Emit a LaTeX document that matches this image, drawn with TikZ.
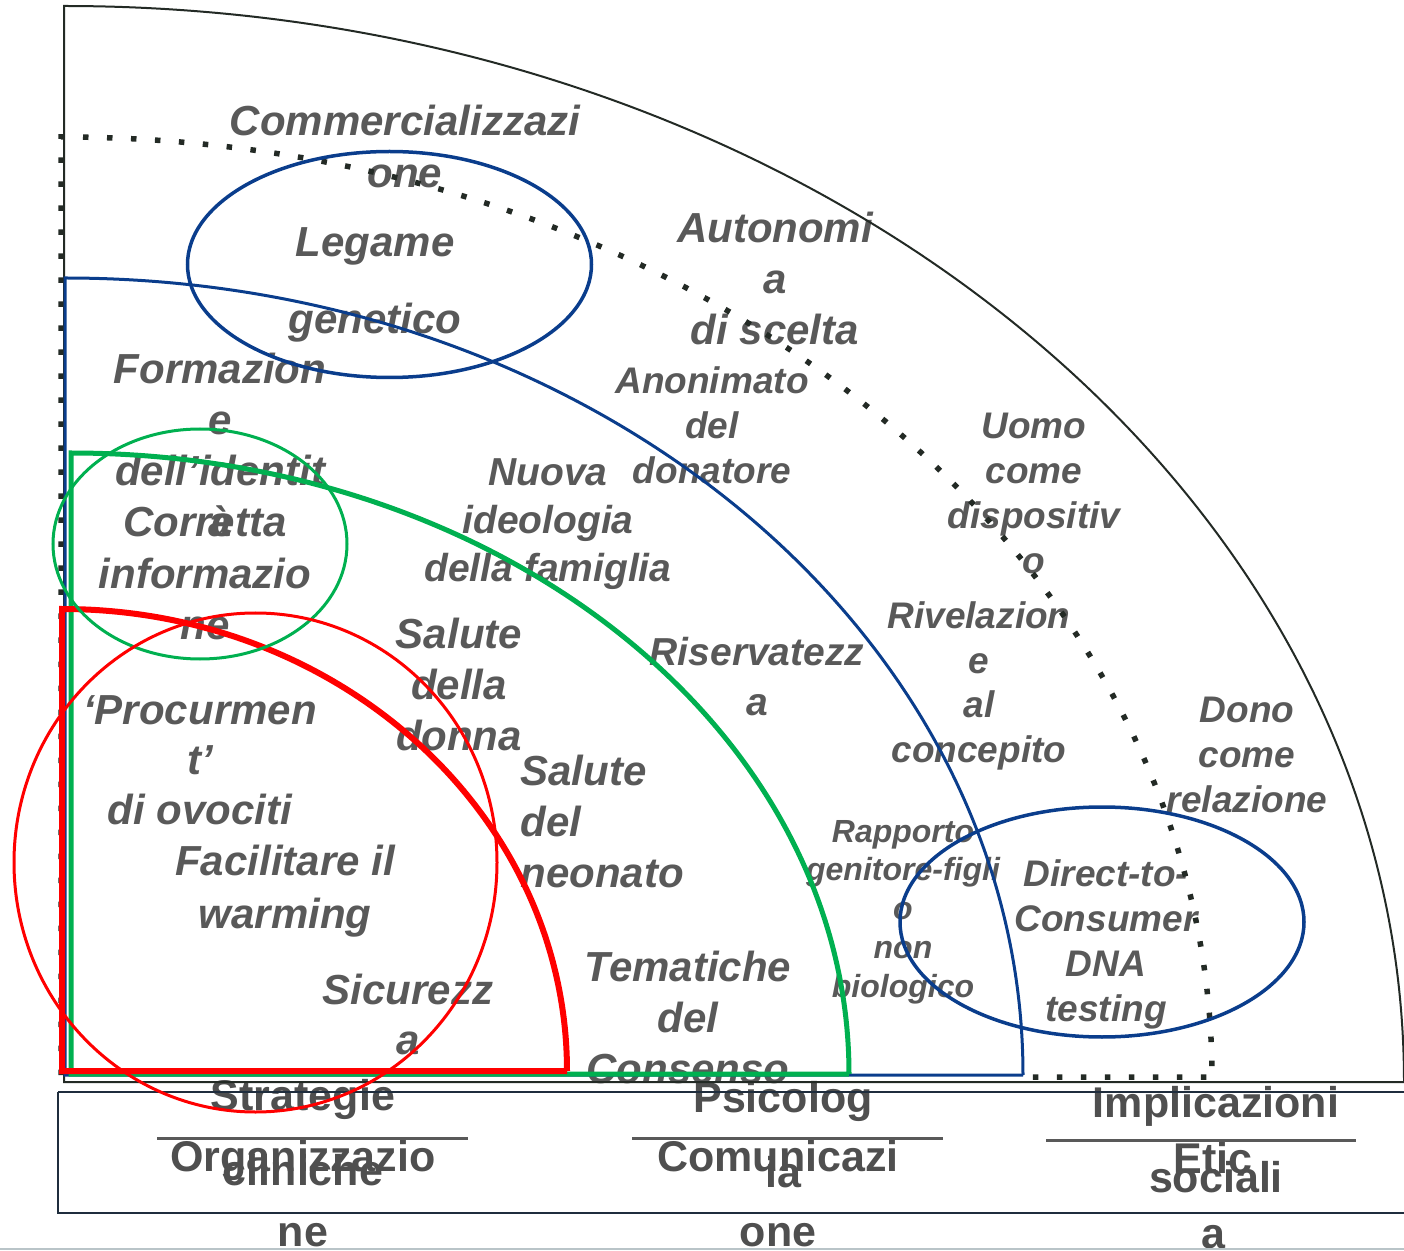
\documentclass[tikz,border=0pt]{standalone}
\usepackage{fontspec}
\setmainfont{Liberation Sans}
\definecolor{txtgray}{HTML}{595959}
\definecolor{catgray}{HTML}{4F4F4F}
\definecolor{navy}{HTML}{0A3D8C}
\definecolor{okgreen}{HTML}{00B050}
\definecolor{hotred}{HTML}{FF0000}
\definecolor{edge}{HTML}{232A25}
\definecolor{boxedge}{HTML}{1F2D3D}
\definecolor{rule}{HTML}{B9C4C8}
\tikzset{
  lbl/.style 2 args={text=txtgray, align=center, inner sep=0pt,
    font=\fontsize{#1}{#2}\selectfont\bfseries\itshape},
  cat/.style={text=catgray, align=center, inner sep=0pt,
    font=\fontsize{21.5}{37.5}\selectfont\bfseries},
  dots/.style={edge, line width=2.75pt, dash pattern=on 2.75pt off 9.25pt},
  bar/.style={txtgray, line width=1.5pt},
}
\begin{document}
\begin{tikzpicture}[x=0.5pt, y=-0.5pt]
\useasboundingbox (0,0) rectangle (1404,1251);

% ---- labels of the themes ----
\node[lbl={21}{26}] (comm) at (405,146) {Commercializzazi\\one};
\node[lbl={21}{38.5}] (legame) at (375,285) {Legame\\genetico};
\node[lbl={21}{25.5}] (auton) at (775,279) {Autonomi\\a\\di scelta};
\node[lbl={18.5}{22.5}] (anon) at (712,425) {Anonimato\\del\\donatore};
\node[lbl={21}{25.5}] (form) at (220,445) {Formazion\\e\\dell’identit\\à};
\node[lbl={21}{25.75}] (corr) at (205,574) {Corretta\\informazio\\ne};
\node[lbl={19.5}{24}] (nuova) at (548,524) {Nuova\\ideologia\\della famiglia};
\node[lbl={21}{25.5}] (sdonna) at (459,684) {Salute\\della\\donna};
\node[lbl={21}{25}] (procur) at (200,760) {‘Procurmen\\t’\\di ovociti};
\node[lbl={21}{26.5}] (facil) at (285,891) {Facilitare il\\warming};
\node[lbl={21}{25}] (sicur) at (408,1014) {Sicurezz\\a};
\node[lbl={21}{25.5}, align=left, anchor=west] (sneon) at (520,821) {Salute\\del\\neonato};
\node[lbl={19.5}{25}] (riserv) at (757,677) {Riservatezz\\a};
\node[lbl={21}{25.5}] (temat) at (688,1017) {Tematiche\\del\\Consenso};
\node[lbl={18.5}{22.5}] (uomo) at (1034,493) {Uomo\\come\\dispositiv\\o};
\node[lbl={18.5}{22.4}] (rivel) at (979,686) {Rivelazion\\e\\al\\concepito};
\node[lbl={18.5}{22.5}] (dono) at (1247,755) {Dono\\come\\relazione};
\node[lbl={16}{19.4}] (rapp) at (903,912) {Rapporto\\genitore-figli\\o\\non\\biologico};
\node[lbl={18.5}{22.5}] (dtc) at (1106,944) {Direct-to-\\Consumer\\DNA\\testing};

% ---- category band ----
\node[cat] (strat) at (303,1133) {Strategie\\cliniche};
\node[cat] (organ) at (303,1194) {Organizzazio\\ne};
\node[cat] (psico) at (783,1135) {Psicolog\\ia};
\node[cat] (comun) at (778,1194) {Comunicazi\\one};
\node[cat] (impl) at (1216,1140) {Implicazioni\\sociali};
\node[cat] (etic) at (1213,1196) {Etic\\a};

\draw[boxedge, line width=1pt] (58,1092) -- (1406,1092) (58,1092) -- (58,1213) -- (1406,1213);
\draw[bar] (157,1138) -- (468,1138);
\draw[bar] (632,1138) -- (943,1138);
\draw[bar] (1046,1140) -- (1356,1140);
\draw[rule, line width=1pt] (0,1249) -- (1404,1249);

% ---- nested quarter regions ----
\draw[edge, line width=1pt] (1406,1082) -- (64,1082) -- (64,6)
  arc[start angle=-90, end angle=0, x radius=1340, y radius=1076];
\draw[dots] (61,1075) -- (61,137)
  arc[start angle=-90, end angle=0, x radius=1151, y radius=941]
  -- (1212,1077) -- (1024,1077);
\draw[navy, line width=1.5pt] (1023,1075) -- (65,1075) -- (65,278)
  arc[start angle=-90, end angle=0, x radius=958, y radius=797];
\draw[okgreen, line width=2.5pt] (849,1074) -- (71,1074) -- (71,453)
  arc[start angle=-90, end angle=0, x radius=778, y radius=621];
\draw[hotred, line width=3pt] (567,1071) -- (62,1071) -- (62,609)
  arc[start angle=-90, end angle=0, x radius=505, y radius=462];

% ---- highlight ellipses ----
\draw[navy, line width=1.75pt] (389.5,264.5) ellipse [x radius=202, y radius=113];
\draw[okgreen, line width=1.5pt] (200,544) ellipse [x radius=147, y radius=115];
\draw[hotred, line width=1.5pt] (255.5,862.5) ellipse [x radius=241.5, y radius=249.5];
\draw[navy, line width=1.75pt] (1102,922) ellipse [x radius=202, y radius=115];
\end{tikzpicture}
\end{document}
